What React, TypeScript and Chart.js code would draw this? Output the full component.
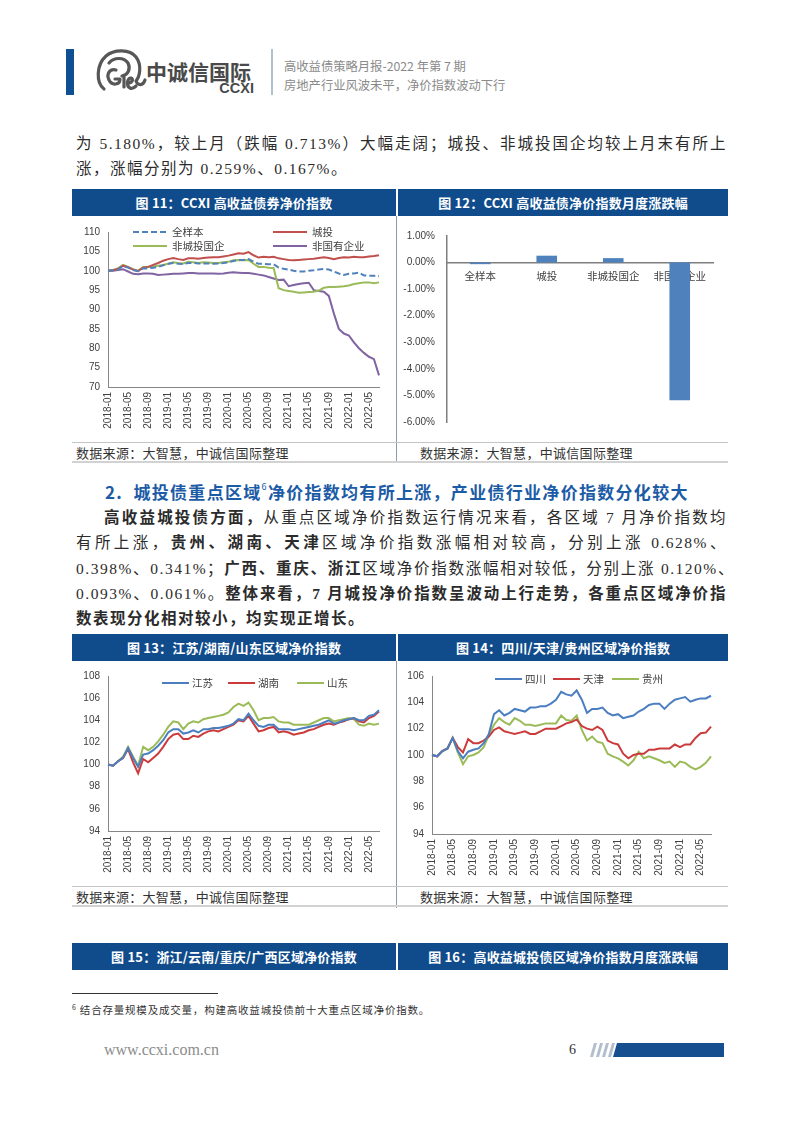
import React, { useEffect, useRef } from 'react';
import { Chart, registerables } from 'chart.js';

Chart.register(...registerables);

// ---------- data ----------
const MONTHS = [
  '2018-01', '2018-02', '2018-03', '2018-04', '2018-05', '2018-06', '2018-07', '2018-08', '2018-09', '2018-10', '2018-11', '2018-12',
  '2019-01', '2019-02', '2019-03', '2019-04', '2019-05', '2019-06', '2019-07', '2019-08', '2019-09', '2019-10', '2019-11', '2019-12',
  '2020-01', '2020-02', '2020-03', '2020-04', '2020-05', '2020-06', '2020-07', '2020-08', '2020-09', '2020-10', '2020-11', '2020-12',
  '2021-01', '2021-02', '2021-03', '2021-04', '2021-05', '2021-06', '2021-07', '2021-08', '2021-09', '2021-10', '2021-11', '2021-12',
  '2022-01', '2022-02', '2022-03', '2022-04', '2022-05', '2022-06', '2022-07',
];

// Fig 11
const ALL_SAMPLE = [
  100.0, 100.1, 100.3, 101.2, 100.8, 100.2, 99.9, 100.6, 100.6, 100.8, 101.0,
  101.4, 101.8, 102.0, 101.8, 101.7, 102.0, 102.0, 101.9, 101.9, 101.9, 101.8,
  101.9, 102.0, 102.2, 102.5, 102.8, 102.8, 103.0, 102.3, 101.8, 101.8, 101.7,
  101.7, 100.8, 100.5, 100.3, 100.0, 99.8, 99.8, 100.0, 100.1, 100.3, 100.5,
  100.3, 99.8, 99.3, 98.9, 99.2, 99.3, 99.5, 98.8, 98.7, 98.7, 98.6,
];
const CHENGTOU = [
  100.0, 100.1, 100.5, 101.3, 100.9, 100.3, 99.9, 100.8, 101.0, 101.5, 102.0,
  102.6, 103.0, 103.3, 103.0, 102.8, 103.2, 103.2, 103.1, 103.3, 103.4, 103.5,
  103.5, 103.7, 103.9, 104.2, 104.5, 104.4, 104.8, 104.0, 103.4, 103.6, 103.5,
  103.6, 103.2, 103.0, 102.8, 102.7, 102.8, 102.9, 103.0, 103.1, 103.3, 103.5,
  103.3, 103.0, 103.3, 103.5, 103.4, 103.6, 103.5, 103.5, 103.7, 103.8, 104.0,
];
const NON_CT_SOE = [
  100.0, 100.2, 100.6, 101.5, 101.0, 100.4, 100.0, 101.0, 101.0, 101.1, 101.3,
  101.5, 101.8, 102.2, 102.0, 101.9, 102.3, 102.2, 102.0, 102.2, 102.1, 102.0,
  102.0, 102.2, 102.3, 102.7, 102.8, 102.7, 102.8, 101.8, 101.0, 101.0, 100.8,
  100.7, 95.5, 95.0, 94.8, 94.6, 94.3, 94.4, 94.5, 94.6, 94.9, 95.6,
  95.8, 95.8, 95.9, 96.0, 96.2, 96.6, 96.8, 97.0, 97.0, 96.8, 97.0,
];
const NON_SOE = [
  100.0, 100.0, 100.2, 100.4, 99.8, 99.2, 99.1, 99.3, 99.3, 99.2, 98.9,
  99.0, 99.1, 99.2, 99.2, 99.3, 99.4, 99.4, 99.3, 99.3, 99.3, 99.3,
  99.2, 99.3, 99.5, 99.6, 99.5, 99.4, 99.4, 99.2, 99.0, 98.8, 98.4,
  98.0, 97.6, 97.7, 96.0, 96.3, 96.6, 96.8, 96.9, 95.0, 94.8, 94.6,
  93.5, 89.0, 85.0, 83.8, 83.3, 81.5, 80.0, 78.8, 77.8, 77.2, 73.0,
];
const FIG11_NAMES = ['全样本', '城投', '非城投国企', '非国有企业'];

// Fig 12
const BAR_CATEGORIES = ['全样本', '城投', '非城投国企', '非国有企业'];
const BAR_VALUES = [-0.06, 0.259, 0.167, -5.18];

// Fig 13
const JIANGSU = [
  100.0, 99.9, 100.3, 100.6, 101.5, 100.6, 99.8, 100.9, 101.0, 101.3, 101.7,
  102.2, 102.9, 103.2, 103.2, 102.8, 102.9, 103.1, 102.9, 103.2, 103.2, 103.3,
  103.3, 103.4, 103.5, 103.7, 104.1, 104.0, 104.6, 104.0, 103.5, 103.4, 103.6,
  103.6, 103.2, 103.2, 103.2, 103.1, 103.2, 103.3, 103.4, 103.5, 103.6, 103.8,
  104.0, 103.7, 103.8, 104.0, 104.1, 104.2, 104.0, 104.0, 104.4, 104.5, 104.9,
];
const HUNAN = [
  100.0, 99.9, 100.3, 100.6, 101.4, 100.2, 99.2, 100.5, 100.2, 100.6, 101.0,
  101.6, 102.3, 102.7, 102.8, 102.3, 102.3, 102.6, 102.5, 102.8, 103.0, 103.1,
  103.0, 103.2, 103.4, 103.6, 104.0, 103.9, 104.4, 103.7, 103.0, 103.1, 103.3,
  103.4, 102.9, 103.0, 102.9, 102.7, 102.8, 102.9, 103.1, 103.2, 103.4, 103.6,
  103.7, 103.6, 103.8, 103.9, 104.1, 104.2, 103.9, 103.8, 104.2, 104.4, 104.8,
];
const SHANDONG = [
  100.0, 99.9, 100.3, 100.7, 101.6, 100.7, 99.9, 101.6, 101.3, 101.6, 102.1,
  102.7, 103.4, 103.9, 103.8, 103.2, 103.7, 103.9, 103.8, 104.1, 104.2, 104.3,
  104.4, 104.5, 104.7, 105.2, 105.5, 105.3, 105.6, 104.9, 104.0, 104.2, 104.2,
  104.3, 103.9, 103.8, 103.8, 103.6, 103.6, 103.6, 103.6, 103.8, 104.0, 104.2,
  104.2, 103.9, 104.0, 104.1, 104.2, 104.1, 103.6, 103.5, 103.7, 103.6, 103.7,
];
const FIG13_NAMES = ['江苏', '湖南', '山东'];

// Fig 14
const SICHUAN = [
  100.0, 99.9, 100.3, 100.5, 101.3, 100.3, 99.75, 100.25, 100.4, 100.5, 100.9,
  101.6, 103.1, 103.4, 103.0, 103.2, 103.5, 103.4, 103.3, 103.6, 103.6, 103.7,
  103.7, 103.9, 104.2, 104.8, 104.6, 104.5, 104.9, 104.2, 103.2, 103.5, 103.5,
  103.6, 103.2, 103.0, 103.1, 102.8, 102.9, 103.0, 103.3, 103.5, 103.8, 103.9,
  103.9, 103.5, 103.9, 104.2, 104.3, 104.4, 104.05, 104.2, 104.3, 104.3, 104.5,
];
const TIANJIN = [
  100.0, 99.9, 100.3, 100.5, 101.3, 100.6, 100.2, 101.2, 100.9, 100.9, 101.1,
  101.4, 101.9, 102.1, 101.8, 101.7, 101.6, 101.7, 101.8, 101.6, 101.6, 101.8,
  102.0, 102.0, 102.0, 102.2, 102.4, 102.5, 102.7, 102.2, 102.0, 101.9, 102.15,
  101.9, 101.1, 100.9, 100.8, 100.1, 99.75, 100.0, 100.1, 100.1, 100.4, 100.4,
  100.5, 100.5, 100.5, 100.8, 100.6, 100.8, 100.8, 101.3, 101.65, 101.7, 102.15,
];
const GUIZHOU = [
  100.0, 99.9, 100.3, 100.5, 101.3, 100.2, 99.3, 99.9, 100.0, 100.2, 100.6,
  101.5, 102.3, 102.8, 102.5, 102.3, 102.8, 102.6, 102.3, 102.3, 102.2, 102.3,
  102.4, 102.4, 102.4, 103.0, 102.65, 102.6, 103.0, 101.9, 101.1, 101.4, 101.0,
  100.9, 100.1, 99.9, 99.75, 99.5, 99.2, 99.6, 100.25, 99.75, 99.9, 99.75,
  99.6, 99.4, 99.5, 99.1, 99.5, 99.4, 99.1, 98.9, 99.1, 99.4, 99.9,
];
const FIG14_NAMES = ['四川', '天津', '贵州'];

// ---------- styles ----------
const CJK = '"Noto Sans CJK SC", sans-serif';
const TICK_FONT = '"Liberation Sans", Arial, sans-serif';
const BODY_FONT = '"Liberation Serif", "Noto Sans CJK SC", serif';
const NAVY = '#104c8c';
const AXIS = '#868686';
const TXT = '#404040';

const insideLegend = {
  id: 'insideLegend',
  afterDatasetsDraw(chart: any, _args: any, opts: any) {
    if (!opts || !opts.items) return;
    const { ctx, chartArea } = chart;
    opts.items.forEach((it: any, idx: number) => {
      const ds = chart.data.datasets[idx];
      const x = chartArea.left + it.x;
      const y = chartArea.top + it.y;
      ctx.save();
      ctx.strokeStyle = ds.borderColor;
      ctx.lineWidth = ds.borderWidth;
      ctx.setLineDash(ds.borderDash || []);
      ctx.beginPath();
      ctx.moveTo(x, y);
      ctx.lineTo(x + opts.lineLength, y);
      ctx.stroke();
      ctx.setLineDash([]);
      ctx.fillStyle = TXT;
      ctx.font = `10.5px ${CJK}`;
      ctx.textBaseline = 'middle';
      ctx.textAlign = 'left';
      ctx.fillText(ds.label, x + opts.lineLength + opts.gap, y);
      ctx.restore();
    });
  },
};

type Series = { label: string; data: number[]; color: string; dash?: number[] };

function lineConfig(
  series: Series[],
  yMin: number,
  yMax: number,
  step: number,
  padding: any,
  yWidth: number,
  xHeight: number,
  legend: any,
) {
  return {
    type: 'line',
    data: {
      labels: MONTHS,
      datasets: series.map((s) => ({
        label: s.label,
        data: s.data,
        borderColor: s.color,
        backgroundColor: s.color,
        borderWidth: 2,
        borderDash: s.dash || [],
        pointRadius: 0,
        tension: 0,
        fill: false,
      })),
    },
    options: {
      animation: false,
      responsive: false,
      maintainAspectRatio: false,
      layout: { padding },
      plugins: {
        legend: { display: false },
        tooltip: { enabled: false },
        insideLegend: legend,
      },
      scales: {
        x: {
          type: 'category',
          offset: false,
          grid: { display: false, drawTicks: false },
          border: { display: true, color: AXIS, width: 1 },
          ticks: {
            autoSkip: false,
            maxRotation: 90,
            minRotation: 90,
            padding: 5,
            color: TXT,
            font: { family: TICK_FONT, size: 10 },
            callback: (_v: any, i: number) => (i % 4 === 0 ? MONTHS[i] : ''),
          },
          afterFit: (s: any) => {
            s.height = xHeight;
          },
        },
        y: {
          min: yMin,
          max: yMax,
          grid: { display: false, drawTicks: false },
          border: { display: true, color: AXIS, width: 1 },
          ticks: {
            stepSize: step,
            padding: 8,
            color: TXT,
            font: { family: TICK_FONT, size: 10 },
          },
          afterFit: (s: any) => {
            s.width = yWidth;
          },
        },
      },
    },
    plugins: [insideLegend],
  };
}

function barConfig() {
  return {
    type: 'bar',
    data: {
      labels: BAR_CATEGORIES,
      datasets: [
        {
          label: '月度涨跌幅',
          data: BAR_VALUES,
          backgroundColor: '#4f81bd',
          borderWidth: 0,
          barPercentage: 0.31,
          categoryPercentage: 1,
        },
      ],
    },
    options: {
      animation: false,
      responsive: false,
      maintainAspectRatio: false,
      layout: { padding: { top: 20, right: 15, bottom: 12, left: 0 } },
      plugins: { legend: { display: false }, tooltip: { enabled: false } },
      scales: {
        x: {
          type: 'category',
          position: { y: 0 },
          offset: true,
          grid: { display: false, drawTicks: false },
          border: { display: true, color: '#7f7f7f', width: 1.5 },
          ticks: {
            padding: 7,
            color: TXT,
            font: { family: CJK, size: 10.5 },
            maxRotation: 0,
            autoSkip: false,
          },
        },
        y: {
          min: -6,
          max: 1,
          grid: { display: false, drawTicks: false },
          border: { display: true, color: '#7f7f7f', width: 1.5 },
          ticks: {
            stepSize: 1,
            padding: 12,
            color: TXT,
            font: { family: TICK_FONT, size: 10 },
            callback: (v: any) => `${Number(v).toFixed(2)}%`,
          },
          afterFit: (s: any) => {
            s.width = 50;
          },
        },
      },
    },
  };
}

function ChartBox({ left, top, width, height, make }: any) {
  const ref = useRef<HTMLCanvasElement>(null);
  useEffect(() => {
    const chart = new Chart(ref.current as HTMLCanvasElement, make());
    return () => chart.destroy();
  }, []);
  return (
    <canvas
      ref={ref}
      width={width}
      height={height}
      style={{ position: 'absolute', left, top, width, height }}
    />
  );
}

function Abs({ left, top, width, height, style, children }: any) {
  return (
    <div style={{ position: 'absolute', left, top, width, height, ...style }}>{children}</div>
  );
}

function TitleBar({ top, leftText, rightText }: any) {
  const common = {
    color: '#fff',
    fontFamily: CJK,
    fontWeight: 700,
    fontSize: 13,
    lineHeight: '27px',
    textAlign: 'center' as const,
    letterSpacing: 0.2,
    background: NAVY,
  };
  return (
    <>
      <Abs left={72} top={top} width={324} height={27} style={common}>{leftText}</Abs>
      <Abs left={398} top={top} width={330} height={27} style={common}>{rightText}</Abs>
    </>
  );
}

function SourceRow({ lineTop }: any) {
  const st = { fontFamily: CJK, fontSize: 13, color: '#333', lineHeight: '19px', letterSpacing: 0.3 };
  return (
    <>
      <Abs left={72} top={lineTop} width={656} height={1} style={{ background: '#c4c4c4' }} />
      <Abs left={76} top={lineTop + 1} height={19} style={st}>数据来源：大智慧，中诚信国际整理</Abs>
      <Abs left={420} top={lineTop + 1} height={19} style={st}>数据来源：大智慧，中诚信国际整理</Abs>
      <Abs left={72} top={lineTop + 19} width={656} height={2} style={{ background: '#d2d2d2' }} />
    </>
  );
}

const para: React.CSSProperties = {
  fontFamily: BODY_FONT,
  fontSize: 15.5,
  lineHeight: '25px',
  color: '#2b2b2b',
  letterSpacing: 1.5,
};
const just: React.CSSProperties = { ...para, textAlign: 'justify', textAlignLast: 'justify' as any };

function Line({ left = 76, right = 727, cy, justify = true, children }: any) {
  return (
    <Abs left={left} top={cy - 12.5} width={right - left} height={25} style={justify ? just : para}>
      {children}
    </Abs>
  );
}

export default function App() {
  const fig11: Series[] = [
    { label: FIG11_NAMES[0], data: ALL_SAMPLE, color: '#4f81bd', dash: [6, 3] },
    { label: FIG11_NAMES[1], data: CHENGTOU, color: '#c0504d' },
    { label: FIG11_NAMES[2], data: NON_CT_SOE, color: '#9bbb59' },
    { label: FIG11_NAMES[3], data: NON_SOE, color: '#8064a2' },
  ];
  const fig13: Series[] = [
    { label: FIG13_NAMES[0], data: JIANGSU, color: '#4a7ec0' },
    { label: FIG13_NAMES[1], data: HUNAN, color: '#cc3b3b' },
    { label: FIG13_NAMES[2], data: SHANDONG, color: '#9bbb59' },
  ];
  const fig14: Series[] = [
    { label: FIG14_NAMES[0], data: SICHUAN, color: '#4a7ec0' },
    { label: FIG14_NAMES[1], data: TIANJIN, color: '#cc3b3b' },
    { label: FIG14_NAMES[2], data: GUIZHOU, color: '#9bbb59' },
  ];

  const b: React.CSSProperties = { fontWeight: 700 };

  return (
    <div style={{ position: 'relative', width: 802, height: 1133, background: '#fff', overflow: 'hidden' }}>
      <style>{'html,body{margin:0;padding:0;background:#fff;}'}</style>

      {/* header */}
      <Abs left={66} top={49} width={8} height={46} style={{ background: '#0f4f93' }} />
      <svg style={{ position: 'absolute', left: 94, top: 48 }} width={54} height={46} viewBox="0 0 54 46">
        <g fill="none" stroke="#575757" strokeWidth={3.2} strokeLinecap="round" strokeLinejoin="round">
          <path d="M10 41 C2 35 2 17 12 8 C20 1 36 1 42 9 C48 17 46 28 42 33 C44 38 49 38 51 32" />
          <path d="M15 15 C20 9 30 9 34 15 C37 21 34 27 28 28" />
          <path d="M22 22 C16 20 12 26 15 32 C18 38 26 37 26 31 L21 31" />
          <path d="M30 29 L30 39" />
          <path d="M34 35 C38 35 40 31 37 30 C33 30 32 38 36 40 C38 41 40 40 42 38" />
        </g>
      </svg>
      <Abs left={146} top={59} style={{ fontFamily: CJK, fontWeight: 700, fontSize: 21, lineHeight: '24px', color: '#4a4a4a', letterSpacing: 0 }}>
        中诚信国际
      </Abs>
      <Abs left={200} top={80} width={54} style={{ fontFamily: TICK_FONT, fontWeight: 700, fontSize: 14.5, lineHeight: '16px', color: '#4a4a4a', textAlign: 'right' }}>
        CCXI
      </Abs>
      <Abs left={271} top={49} width={2} height={46} style={{ background: '#aebfce' }} />
      <Abs left={284} top={57} style={{ fontFamily: CJK, fontSize: 12.3, lineHeight: '18px', color: '#8a8a8a' }}>
        高收益债策略月报-2022 年第 7 期
      </Abs>
      <Abs left={284} top={76} style={{ fontFamily: CJK, fontSize: 12.3, lineHeight: '18px', color: '#8a8a8a' }}>
        房地产行业风波未平，净价指数波动下行
      </Abs>

      {/* paragraph 1 */}
      <Line cy={143}>为 5.180%，较上月（跌幅 0.713%）大幅走阔；城投、非城投国企均较上月末有所上</Line>
      <Line cy={168} justify={false}>涨，涨幅分别为 0.259%、0.167%。</Line>

      {/* Fig 11 / 12 */}
      <TitleBar top={189} leftText="图 11：CCXI 高收益债券净价指数" rightText="图 12：CCXI 高收益债净价指数月度涨跌幅" />
      <ChartBox
        left={72}
        top={216}
        width={324}
        height={224}
        make={() =>
          lineConfig(fig11, 70, 110, 5, { top: 16, right: 10, bottom: 0, left: 0 }, 36, 53, {
            items: [
              { x: 25, y: 0 },
              { x: 165, y: 0 },
              { x: 25, y: 14 },
              { x: 165, y: 14 },
            ],
            lineLength: 34,
            gap: 5,
          })
        }
      />
      <ChartBox left={397} top={216} width={331} height={224} make={barConfig} />
      <Abs left={396} top={216} width={1} height={247} style={{ background: '#8d9aa8' }} />
      <SourceRow lineTop={442} />

      {/* section heading */}
      <Abs left={105} top={480} style={{ fontFamily: CJK, fontWeight: 700, fontSize: 17, lineHeight: '24px', color: '#1c5ba6', letterSpacing: 1.3, whiteSpace: 'nowrap' }}>
        2.&nbsp; 城投债重点区域<sup style={{ fontSize: 9, fontWeight: 400, verticalAlign: 'top', lineHeight: '14px' }}>6</sup>净价指数均有所上涨，产业债行业净价指数分化较大
      </Abs>

      {/* paragraph 2 */}
      <Line left={104} cy={517}>
        <span style={b}>高收益城投债方面，</span>从重点区域净价指数运行情况来看，各区域 7 月净价指数均
      </Line>
      <Line cy={542}>
        有所上涨，<span style={b}>贵州、湖南、天津</span>区域净价指数涨幅相对较高，分别上涨 0.628%、
      </Line>
      <Line cy={568} right={735}>
        0.398%、0.341%；<span style={b}>广西、重庆、浙江</span>区域净价指数涨幅相对较低，分别上涨 0.120%、
      </Line>
      <Line cy={593}>
        0.093%、0.061%。<span style={b}>整体来看，7 月城投净价指数呈波动上行走势，各重点区域净价指</span>
      </Line>
      <Line cy={618} justify={false}>
        <span style={b}>数表现分化相对较小，均实现正增长。</span>
      </Line>

      {/* Fig 13 / 14 */}
      <TitleBar top={634} leftText="图 13：江苏/湖南/山东区域净价指数" rightText="图 14：四川/天津/贵州区域净价指数" />
      <ChartBox
        left={72}
        top={661}
        width={324}
        height={224}
        make={() =>
          lineConfig(fig13, 94, 108, 2, { top: 15, right: 12, bottom: 0, left: 0 }, 36, 54, {
            items: [
              { x: 54, y: 7 },
              { x: 120, y: 7 },
              { x: 189, y: 7 },
            ],
            lineLength: 27,
            gap: 3,
          })
        }
      />
      <ChartBox
        left={397}
        top={661}
        width={331}
        height={224}
        make={() =>
          lineConfig(fig14, 94, 106, 2, { top: 15, right: 14, bottom: 0, left: 0 }, 35, 51, {
            items: [
              { x: 63, y: 3 },
              { x: 121, y: 3 },
              { x: 180, y: 3 },
            ],
            lineLength: 27,
            gap: 3,
          })
        }
      />
      <Abs left={396} top={661} width={1} height={247} style={{ background: '#8d9aa8' }} />
      <SourceRow lineTop={886} />

      {/* Fig 15 / 16 title bars */}
      <TitleBar top={943} leftText="图 15：浙江/云南/重庆/广西区域净价指数" rightText="图 16：高收益城投债区域净价指数月度涨跌幅" />

      {/* footnote */}
      <Abs left={72} top={993} width={146} height={1} style={{ background: '#333' }} />
      <Abs left={72} top={1002} style={{ fontFamily: CJK, fontSize: 10.5, lineHeight: '16px', color: '#333', letterSpacing: 0.8, whiteSpace: 'nowrap' }}>
        <sup style={{ fontSize: 7, verticalAlign: 'top', lineHeight: '10px' }}>6</sup> 结合存量规模及成交量，构建高收益城投债前十大重点区域净价指数。
      </Abs>

      {/* footer */}
      <Abs left={104} top={1040} style={{ fontFamily: '"Liberation Serif", serif', fontSize: 16, lineHeight: '20px', color: '#8c8c8c' }}>
        www.ccxi.com.cn
      </Abs>
      <Abs left={569} top={1040} style={{ fontFamily: '"Liberation Serif", serif', fontSize: 14, lineHeight: '20px', color: '#333' }}>
        6
      </Abs>
      <svg style={{ position: 'absolute', left: 586, top: 1043 }} width={140} height={14} viewBox="0 0 140 14">
        <g fill="#b3bfcd">
          <polygon points="4,14 7,14 11,0 8,0" />
          <polygon points="10,14 13,14 17,0 14,0" />
          <polygon points="16,14 19,14 23,0 20,0" />
          <polygon points="22,14 25,14 29,0 26,0" />
        </g>
        <polygon points="27,14 138,14 138,0 31,0" fill="#164f8f" />
      </svg>
    </div>
  );
}
